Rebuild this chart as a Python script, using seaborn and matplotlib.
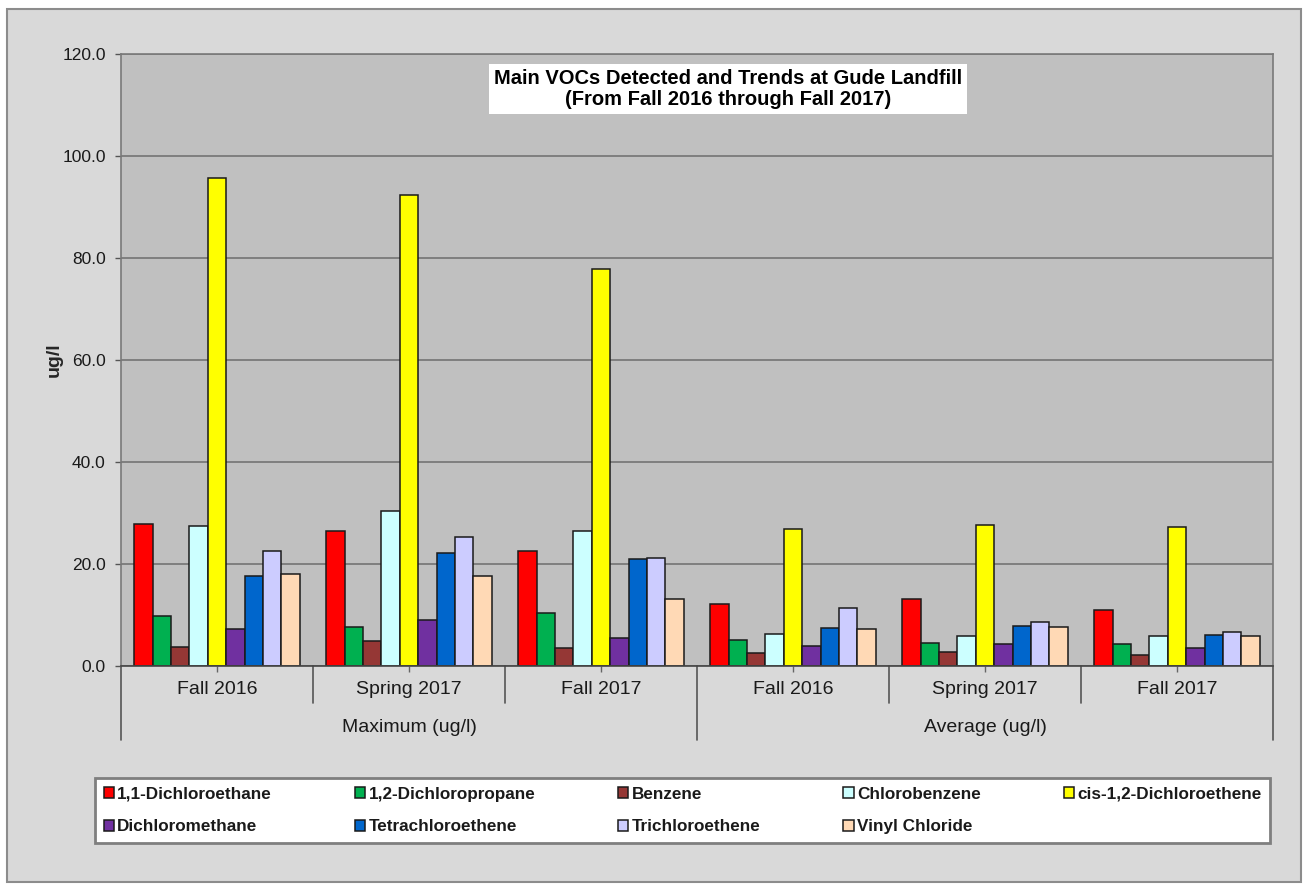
import matplotlib
matplotlib.use("Agg")
import matplotlib.pyplot as plt
import matplotlib.transforms as mtransforms
from matplotlib.patches import Rectangle
import seaborn as sns
import pandas as pd

# ---- data ----
compounds = ["1,1-Dichloroethane", "1,2-Dichloropropane", "Benzene", "Chlorobenzene",
             "cis-1,2-Dichloroethene", "Dichloromethane", "Tetrachloroethene",
             "Trichloroethene", "Vinyl Chloride"]
seasons = ["Fall 2016", "Spring 2017", "Fall 2017"]
stats = ["Maximum (ug/l)", "Average (ug/l)"]

max_fall2016 = [27.8, 9.9, 3.8, 27.5, 95.7, 7.3, 17.6, 22.6, 18.0]
max_spring2017 = [26.5, 7.7, 4.9, 30.4, 92.4, 9.1, 22.2, 25.2, 17.6]
max_fall2017 = [22.6, 10.4, 3.6, 26.5, 77.9, 5.5, 20.9, 21.1, 13.2]
avg_fall2016 = [12.1, 5.1, 2.5, 6.2, 26.9, 3.9, 7.5, 11.4, 7.2]
avg_spring2017 = [13.1, 4.6, 2.8, 5.9, 27.7, 4.3, 7.9, 8.6, 7.7]
avg_fall2017 = [11.0, 4.3, 2.1, 5.9, 27.3, 3.6, 6.1, 6.7, 5.9]

colors = ["#FF0000", "#00B050", "#953735", "#CCFFFF", "#FFFF00",
          "#7030A0", "#0066CC", "#CCCCFF", "#FFD9B5"]

series = [max_fall2016, max_spring2017, max_fall2017,
          avg_fall2016, avg_spring2017, avg_fall2017]
group_keys = [f"{st}|{se}" for st in stats for se in seasons]

rows = []
for key, vals in zip(group_keys, series):
    for c, v in zip(compounds, vals):
        rows.append({"group": key, "compound": c, "value": v})
df = pd.DataFrame(rows)

# ---- figure ----
sns.set_theme(style="white")
plt.rcParams["font.family"] = ["Liberation Sans", "DejaVu Sans"]

W, H = 1308, 886
fig = plt.figure(figsize=(W / 100, H / 100), dpi=100, facecolor="white")
fig.patches.append(Rectangle((7 / W, 1 - 882 / H), (1301 - 7) / W, (882 - 9) / H,
                             transform=fig.transFigure, facecolor="#D9D9D9",
                             edgecolor="#8C8C8C", linewidth=1.5, zorder=-10))

ax = fig.add_axes([121 / W, 1 - 666 / H, (1273 - 121) / W, (666 - 54) / H])
ax.set_facecolor("#C0C0C0")

sns.barplot(data=df, x="group", y="value", hue="compound", order=group_keys,
            hue_order=compounds, palette=colors, saturation=1, width=0.86,
            gap=0, edgecolor="#1a1a1a", linewidth=1.1, ax=ax, errorbar=None)

ax.set_ylim(0, 120)
ax.set_xlim(-0.5, 5.5)
yt = [0, 20, 40, 60, 80, 100, 120]
ax.set_yticks(yt)
ax.set_yticklabels([f"{v:.1f}" for v in yt], fontsize=12.5, color="#1a1a1a")
ax.yaxis.grid(True, color="#7A7A7A", linewidth=1.3)
ax.set_axisbelow(True)
ax.tick_params(axis="y", length=4, width=1, color="#555555", pad=7, left=True)
for s in ["top", "right", "left"]:
    ax.spines[s].set_color("#7A7A7A")
    ax.spines[s].set_linewidth(1.2)
ax.spines["bottom"].set_color("#444444")
ax.spines["bottom"].set_linewidth(1.2)

ax.set_xticks(range(6))
ax.set_xticklabels([k.split("|")[1] for k in group_keys], fontsize=14, color="#1a1a1a")
ax.tick_params(axis="x", length=4, width=1, color="#666666", pad=7, bottom=True)
ax.set_xlabel("")
ax.set_ylabel("ug/l", fontsize=14, fontweight="bold")
ax.yaxis.set_label_coords((63 - 121) / 1152, 0.5)

# multi-level category separators
trans = mtransforms.blended_transform_factory(ax.transData, ax.transAxes)
h_in = 37 / 612
h_out = 74 / 612
for xpos in [0.5, 1.5, 3.5, 4.5]:
    ax.plot([xpos, xpos], [0, -h_in], transform=trans, color="#555555",
            linewidth=1.2, clip_on=False)
for xpos in [-0.5, 2.5, 5.5]:
    ax.plot([xpos, xpos], [0, -h_out], transform=trans, color="#555555",
            linewidth=1.2, clip_on=False)
for i, st in enumerate(stats):
    ax.text(1 + 3 * i, -62 / 612, st, transform=trans, ha="center", va="center",
            fontsize=14, color="#1a1a1a")

# title box
ax.text(0.527, 0.943, "Main VOCs Detected and Trends at Gude Landfill\n(From Fall 2016 through Fall 2017)",
        transform=ax.transAxes, ha="center", va="center", fontsize=14.5,
        fontweight="bold", color="black", linespacing=1.15,
        bbox=dict(boxstyle="square,pad=0.25", facecolor="white", edgecolor="none"))

# legend
handles, labels = ax.get_legend_handles_labels()
ax.get_legend().remove()
order = [0, 5, 1, 6, 2, 7, 3, 8, 4]
leg = fig.legend([handles[i] for i in order], [labels[i] for i in order],
                 ncol=5, loc="lower left",
                 bbox_to_anchor=(95 / W, 1 - 843 / H, (1270 - 95) / W, (843 - 776) / H),
                 mode="expand", frameon=True, fancybox=False, fontsize=12.3,
                 framealpha=1, facecolor="white",
                 handlelength=0.6, handleheight=0.6, handletextpad=0.2,
                 borderaxespad=0, labelspacing=1.05, borderpad=0.5)
leg.get_frame().set_edgecolor("#7F7F7F")
leg.get_frame().set_linewidth(2)
for t in leg.get_texts():
    t.set_fontweight("bold")
    t.set_color("#1a1a1a")

fig.savefig("out.png", dpi=100, facecolor="white")
